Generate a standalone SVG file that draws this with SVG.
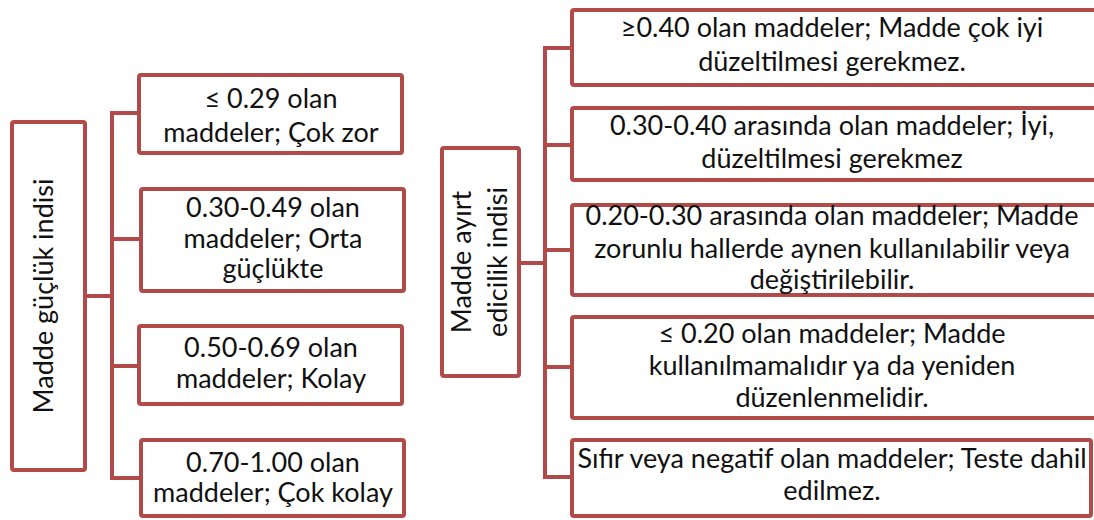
<svg xmlns="http://www.w3.org/2000/svg" width="1094" height="520" viewBox="0 0 1094 520">
<style>
.box{fill:#ffffff;stroke:#B04B49;stroke-width:4;}
.con{fill:none;stroke:#B04B49;stroke-width:4;stroke-linejoin:miter;stroke-linecap:square;}
text{font-family:Lato,"Liberation Sans",sans-serif;font-size:27px;fill:#111111;text-anchor:middle;}
</style>
<rect width="1094" height="520" fill="#ffffff"/>
<g id="connectors">
<path class="con" d="M87,296 H112 M112,113 V478 M112,113 H137 M112,239 H139 M112,366 H137 M112,478 H139"/>
<path class="con" d="M521,263 H545 M545,48 V477 M545,48 H570 M545,145 H570 M545,250 H570 M545,367 H570 M545,477 H570"/>
</g>
<g id="root-left">
<rect class="box" x="12" y="122" width="73" height="348" rx="2"/>
<text transform="translate(53,296) rotate(-90)">Madde güçlük indisi</text>
</g>
<g id="left-1">
<rect class="box" x="139" y="75" width="263" height="78" rx="2"/>
<text x="271" y="108">≤ 0.29 olan</text>
<text x="271" y="142">maddeler; Çok zor</text>
</g>
<g id="left-2">
<rect class="box" x="141" y="189" width="263" height="102" rx="2"/>
<text x="273" y="217">0.30-0.49 olan</text>
<text x="273" y="248">maddeler; Orta</text>
<text x="273" y="278">güçlükte</text>
</g>
<g id="left-3">
<rect class="box" x="139" y="326" width="263" height="78" rx="2"/>
<text x="271" y="357">0.50-0.69 olan</text>
<text x="271" y="388">maddeler; Kolay</text>
</g>
<g id="left-4">
<rect class="box" x="141" y="440" width="263" height="76" rx="2"/>
<text x="273" y="472">0.70-1.00 olan</text>
<text x="273" y="502">maddeler; Çok kolay</text>
</g>
<g id="root-right">
<rect class="box" x="442" y="148" width="77" height="228" rx="2"/>
<text transform="translate(471,262) rotate(-90)">Madde ayırt</text>
<text transform="translate(507,262) rotate(-90)">edicilik indisi</text>
</g>
<g id="right-1">
<rect class="box" x="572" y="10" width="524" height="75" rx="2"/>
<text x="832" y="37">≥0.40 olan maddeler; Madde çok iyi</text>
<text x="832" y="71">düzeltilmesi gerekmez.</text>
</g>
<g id="right-2">
<rect class="box" x="572" y="108" width="524" height="72" rx="2"/>
<text x="832" y="135">0.30-0.40 arasında olan maddeler; İyi,</text>
<text x="832" y="168">düzeltilmesi gerekmez</text>
</g>
<g id="right-3">
<rect class="box" x="572" y="205" width="524" height="90" rx="2"/>
<text x="832" y="225">0.20-0.30 arasında olan maddeler; Madde</text>
<text x="832" y="258">zorunlu hallerde aynen kullanılabilir veya</text>
<text x="832" y="289">değiştirilebilir.</text>
</g>
<g id="right-4">
<rect class="box" x="572" y="317" width="524" height="101" rx="2"/>
<text x="832" y="343">≤ 0.20 olan maddeler; Madde</text>
<text x="832" y="375">kullanılmamalıdır ya da yeniden</text>
<text x="832" y="407">düzenlenmelidir.</text>
</g>
<g id="right-5">
<rect class="box" x="572" y="440" width="519" height="76" rx="2"/>
<text x="832" y="468">Sıfır veya negatif olan maddeler; Teste dahil</text>
<text x="832" y="500">edilmez.</text>
</g>
</svg>
